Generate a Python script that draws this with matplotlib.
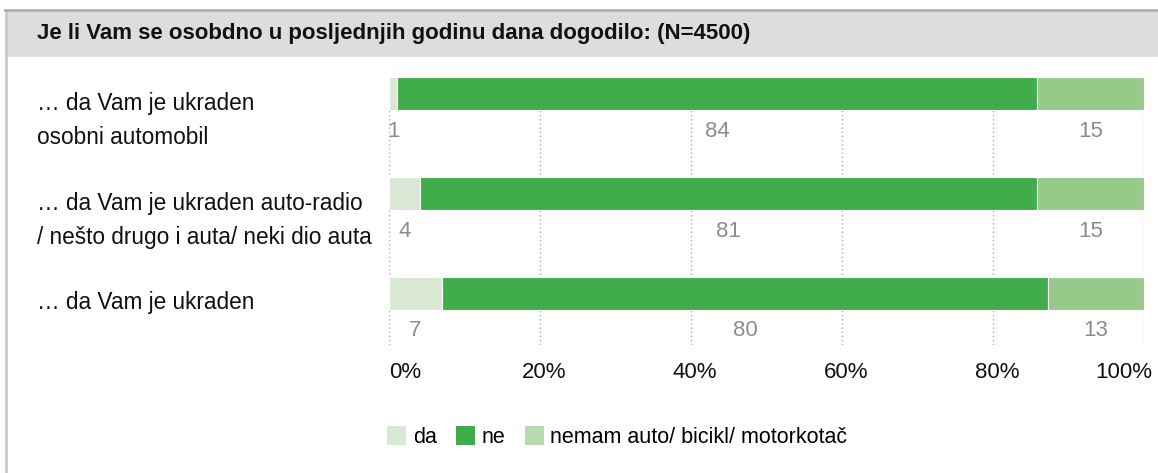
import matplotlib.pyplot as plt
from matplotlib.patches import Patch, Rectangle
from matplotlib.transforms import blended_transform_factory, ScaledTranslation

plt.rcParams['font.family'] = ['Liberation Sans', 'DejaVu Sans']

title = 'Je li Vam se osobdno u posljednjih godinu dana dogodilo: (N=4500)'
categories = ['… da Vam je ukraden\nosobni automobil',
              '… da Vam je ukraden auto-radio\n/ nešto drugo i auta/ neki dio auta',
              '… da Vam je ukraden']
series = ['da', 'ne', 'nemam auto/ bicikl/ motorkotač']
da = [1.1, 4.1, 7.0]
ne = [84.7, 81.7, 80.3]
nemam = [14.2, 14.2, 12.7]
labels_da = ['1', '4', '7']
labels_ne = ['84', '81', '80']
labels_nemam = ['15', '15', '13']
colors = ['#d9e8d5', '#41ac4a', '#96c98a']
legend_colors = ['#d9e8d5', '#41ac4a', '#b7daae']
xticks = [0, 20, 40, 60, 80, 100]

W, H = 1158, 473
fig = plt.figure(figsize=(W / 100, H / 100), dpi=100)
fig.set_facecolor('white')

# frame and header band
fig.patches.append(Rectangle((5 / W, 1 - 57 / H), 1, 47 / H, transform=fig.transFigure,
                             facecolor='#dcdddf', edgecolor='none', zorder=-10))
fig.add_artist(plt.Line2D([6 / W, 6 / W], [0, 1 - 10 / H], transform=fig.transFigure,
                          color='#c8c8c8', lw=2, zorder=-5))
fig.add_artist(plt.Line2D([5 / W, 1], [1 - 10 / H, 1 - 10 / H], transform=fig.transFigure,
                          color='#b0b0b0', lw=2, zorder=-5))
fig.text(37 / W, 1 - 34 / H, title, fontsize=16, fontweight='bold', va='center', ha='left',
         color='#111111')

ax = fig.add_axes([389 / W, 1 - 345 / H, 755 / W, 268 / H])
ax.set_xlim(0, 100)
ax.set_ylim(2.68, 0)
ax.patch.set_alpha(0)

bh = 0.33
ypos = [0, 1, 2]
left = [0, 0, 0]
for vals, col, labs in zip([da, ne, nemam], colors, [labels_da, labels_ne, labels_nemam]):
    ax.barh([y + bh / 2 for y in ypos], vals, height=bh, left=left, color=col,
            edgecolor='white', linewidth=0.8, zorder=2)
    for y, l, v, t in zip(ypos, left, vals, labs):
        cx = l + v / 2
        if l == 0:
            cx = max(cx, 0.6)
        ax.text(cx, y + 0.54, t, ha='center', va='center', fontsize=16, color='#8c8c8c')
    left = [a + b for a, b in zip(left, vals)]

for x in xticks:
    ax.axvline(x, color='#aaaaaa', lw=1, ls=(0, (1, 2)), zorder=1)

ax.set_xticks(xticks)
ax.set_xticklabels([f'{x}%' for x in xticks], fontsize=16, color='#111111')
ax.tick_params(axis='x', length=0, pad=12)
tl = ax.get_xticklabels()
tl[0].set_ha('left')
tl[-1].set_ha('right')
tl[-1].set_transform(tl[-1].get_transform() + ScaledTranslation(8 / 100, 0, fig.dpi_scale_trans))
for t in tl[1:-1]:
    t.set_transform(t.get_transform() + ScaledTranslation(4 / 100, 0, fig.dpi_scale_trans))
ax.set_yticks([])
for s in ax.spines.values():
    s.set_visible(False)

# category labels, one line at a time
tr = blended_transform_factory(fig.transFigure, ax.transData)
for y, cat in zip(ypos, categories):
    for k, line in enumerate(cat.split('\n')):
        ax.text(37 / W, y + 0.26 + 0.34 * k, line, transform=tr, fontsize=16.3,
                va='center', ha='left', color='#111111')

handles = [Patch(facecolor=c, edgecolor='none') for c in legend_colors]
fig.legend(handles, series, loc='center left', bbox_to_anchor=(368 / W, 1 - 437 / H),
           ncol=3, frameon=False, fontsize=15.5, handlelength=0.88, handleheight=1.0,
           handletextpad=0.3, columnspacing=0.9)

plt.savefig('out.png', dpi=100)
